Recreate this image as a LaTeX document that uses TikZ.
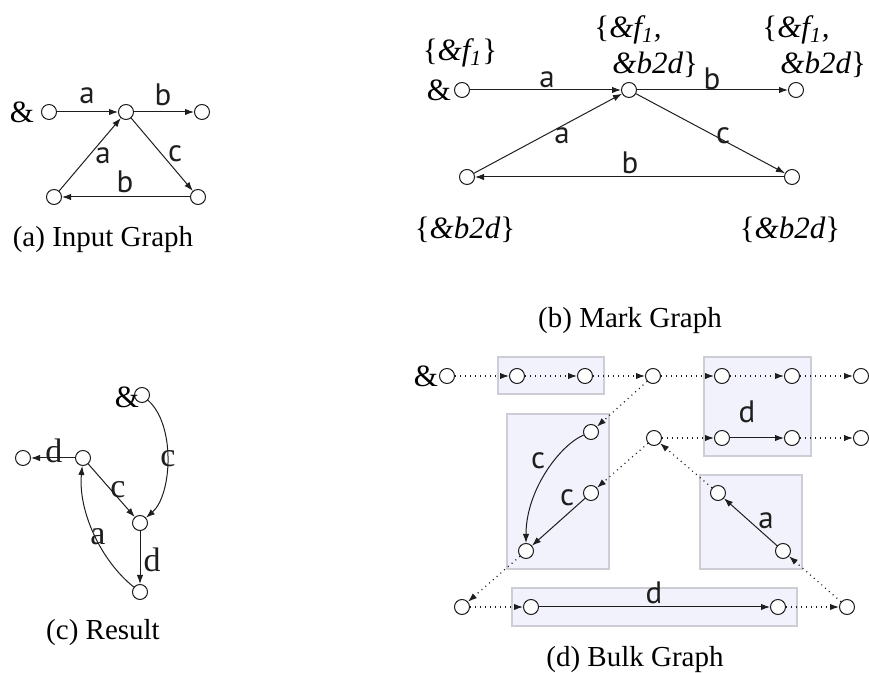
\documentclass[tikz,border=0pt]{standalone}
\usepackage{fontspec}
\setmainfont{Liberation Serif}
\newfontfamily\lblfont{PT Sans}
\usetikzlibrary{arrows.meta}
\definecolor{boxfill}{RGB}{242,242,252}
\definecolor{boxline}{RGB}{205,205,214}
\definecolor{ink}{RGB}{30,30,30}
\newcommand{\lb}{\textup{\{}}
\newcommand{\rb}{\textup{\}}}
\tikzset{
  vtx/.style={circle,draw=ink,line width=0.5pt,minimum size=7.5pt,inner sep=0pt,fill=white},
  arr/.style={-{Latex[length=4.5pt,width=3.2pt]},line width=0.5pt,draw=ink},
  dotarr/.style={-{Latex[length=4.5pt,width=3.2pt]},line width=0.6pt,draw=ink,dash pattern=on 0.5pt off 2pt},
  lbl/.style={font=\lblfont\fontsize{15.5}{17}\selectfont,inner sep=0pt,text=ink},
  slbl/.style={font=\fontsize{17}{19}\selectfont,inner sep=0pt,text=ink},
  amp/.style={font=\fontsize{15.5}{17}\selectfont,inner sep=0pt},
  ann/.style={font=\fontsize{15.5}{17}\selectfont\itshape,inner sep=0pt},
  captxt/.style={font=\fontsize{14.5}{17}\selectfont,inner sep=0pt},
  bulk/.style={fill=boxfill,draw=boxline,line width=0.6pt},
}
\begin{document}
\begin{tikzpicture}[x=0.5pt,y=-0.5pt]
\useasboundingbox (0,0) rectangle (869,673);
% ---------- (a) Input Graph ----------
\node[vtx] (a0) at (49,112) {};
\node[vtx] (a1) at (126,112) {};
\node[vtx] (a2) at (202,112) {};
\node[vtx] (a3) at (54,197) {};
\node[vtx] (a4) at (198,197) {};
\node[amp] (aamp) at (22,112) {\&};
\draw[arr] (a0) -- (a1);
\draw[arr] (a1) -- (a2);
\draw[arr] (a3) -- (a1);
\draw[arr] (a1) -- (a4);
\draw[arr] (a4) -- (a3);
\node[lbl] (la1) at (87,96) {a};
\node[lbl] (la2) at (163,95) {b};
\node[lbl] (la3) at (103,156) {a};
\node[lbl] (la4) at (175,154) {c};
\node[lbl] (la5) at (125,182) {b};
\node[captxt] (capa) at (103,240) {(a) Input Graph};
% ---------- (b) Mark Graph ----------
\node[vtx] (b0) at (462,90) {};
\node[vtx] (b1) at (629,90) {};
\node[vtx] (b2) at (796,90) {};
\node[vtx] (b3) at (467,177) {};
\node[vtx] (b4) at (792,177) {};
\node[amp] (bamp) at (439,90) {\&};
\draw[arr] (b0) -- (b1);
\draw[arr] (b1) -- (b2);
\draw[arr] (b3) -- (b1);
\draw[arr] (b1) -- (b4);
\draw[arr] (b4) -- (b3);
\node[lbl] (lb1) at (547,80) {a};
\node[lbl] (lb2) at (712,79) {b};
\node[lbl] (lb3) at (562,136) {a};
\node[lbl] (lb4) at (723,136) {c};
\node[lbl] (lb5) at (630,163) {b};
\node[ann] (mb0) at (460,53) {\lb\&f\textsubscript{1}\rb};
\node[ann,anchor=west] (mb1a) at (594,30) {\lb\&f\textsubscript{1},};
\node[ann,anchor=west] (mb1b) at (612,65) {\&b2d\rb};
\node[ann,anchor=west] (mb2a) at (762,30) {\lb\&f\textsubscript{1},};
\node[ann,anchor=west] (mb2b) at (780,65) {\&b2d\rb};
\node[ann] (mb3) at (465,230) {\lb\&b2d\rb};
\node[ann] (mb4) at (790,230) {\lb\&b2d\rb};
\node[captxt] (capb) at (630,321) {(b) Mark Graph};
% ---------- (c) Result ----------
\node[vtx] (c0) at (142,395) {};
\node[vtx] (c1) at (23,458) {};
\node[vtx] (c2) at (83,458) {};
\node[vtx] (c3) at (140,523) {};
\node[vtx] (c4) at (140,592) {};
\node[amp] (camp) at (127,397) {\&};
\draw[arr] (c0) .. controls (176,425) and (172,495) .. (c3);
\draw[arr] (c2) -- (c1);
\draw[arr] (c2) -- (c3);
\draw[arr] (c3) -- (c4);
\draw[arr] (c4) .. controls (100,560) and (78,510) .. (c2);
\node[slbl] (lc1) at (168,459) {c};
\node[slbl] (lc2) at (54,451) {d};
\node[slbl] (lc3) at (118,490) {c};
\node[slbl] (lc4) at (152,560) {d};
\node[slbl] (lc5) at (98,537) {a};
\node[captxt] (capc) at (103,633) {(c) Result};
% ---------- (d) Bulk Graph ----------
\draw[bulk] (498,357) rectangle (604,394);
\draw[bulk] (704,357) rectangle (811,456);
\draw[bulk] (507,414) rectangle (609,569);
\draw[bulk] (700,475) rectangle (802,569);
\draw[bulk] (512,588) rectangle (797,626);
\node[vtx] (d0) at (447,376) {};
\node[vtx] (d1) at (517,376) {};
\node[vtx] (d2) at (585,376) {};
\node[vtx] (d3) at (653,376) {};
\node[vtx] (d4) at (722,376) {};
\node[vtx] (d5) at (792,376) {};
\node[vtx] (d6) at (861,376) {};
\node[vtx] (d7) at (654,438) {};
\node[vtx] (d8) at (722,438) {};
\node[vtx] (d9) at (792,438) {};
\node[vtx] (d10) at (861,438) {};
\node[vtx] (d11) at (591,432) {};
\node[vtx] (d12) at (591,493) {};
\node[vtx] (d13) at (526,551) {};
\node[vtx] (d14) at (718,493) {};
\node[vtx] (d15) at (783,551) {};
\node[vtx] (d16) at (462,607) {};
\node[vtx] (d17) at (531,607) {};
\node[vtx] (d18) at (778,607) {};
\node[vtx] (d19) at (847,607) {};
\node[amp] (damp) at (426,376) {\&};
\draw[dotarr] (d0) -- (d1);
\draw[dotarr] (d1) -- (d2);
\draw[dotarr] (d2) -- (d3);
\draw[dotarr] (d3) -- (d4);
\draw[dotarr] (d4) -- (d5);
\draw[dotarr] (d5) -- (d6);
\draw[dotarr] (d7) -- (d8);
\draw[arr] (d8) -- (d9);
\draw[dotarr] (d9) -- (d10);
\draw[dotarr] (d3) -- (d11);
\draw[dotarr] (d7) -- (d12);
\draw[arr] (d11) .. controls (560,445) and (526,490) .. (d13);
\draw[arr] (d12) -- (d13);
\draw[dotarr] (d14) -- (d7);
\draw[arr] (d15) -- (d14);
\draw[dotarr] (d13) -- (d16);
\draw[dotarr] (d16) -- (d17);
\draw[arr] (d17) -- (d18);
\draw[dotarr] (d18) -- (d19);
\draw[dotarr] (d19) -- (d15);
\node[lbl] (ld1) at (747,412) {d};
\node[lbl] (ld2) at (538,461) {c};
\node[lbl] (ld3) at (567,498) {c};
\node[lbl] (ld4) at (766,521) {a};
\node[lbl] (ld5) at (654,593) {d};
\node[captxt] (capd) at (635,660) {(d) Bulk Graph};
\end{tikzpicture}
\end{document}
